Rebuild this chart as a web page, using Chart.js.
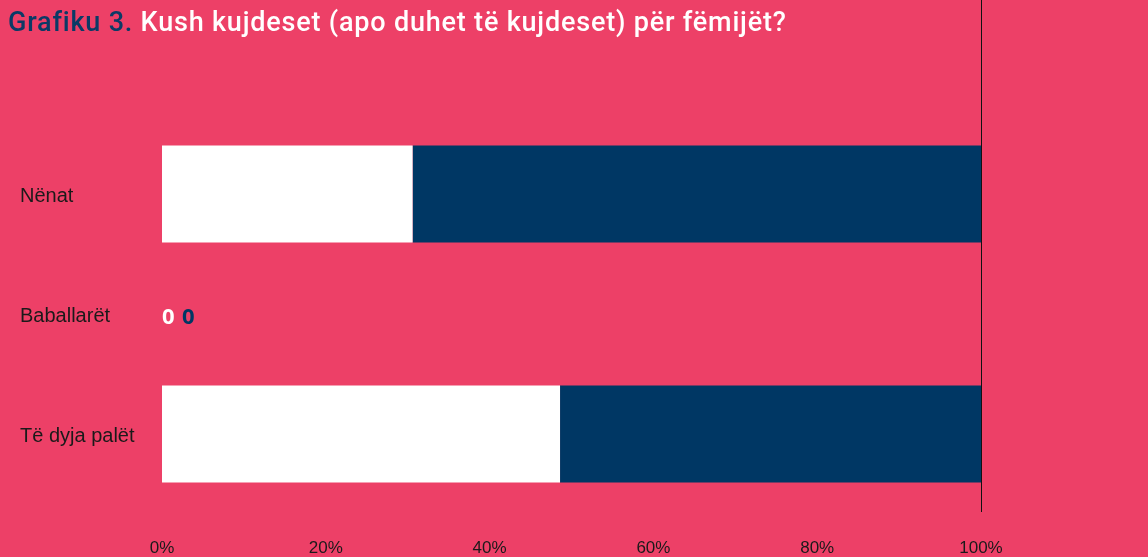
<!DOCTYPE html>
<html>
<head>
<meta charset="utf-8">
<script src="https://cdn.jsdelivr.net/npm/chart.js@4"></script>
<style>
  body { margin: 0; background: #ED4067; }
  #wrap { position: relative; width: 1148px; height: 557px; }
  #title { position: absolute; left: 8px; top: 6px; font-family: Roboto, sans-serif; font-size: 27px; font-weight: 500; letter-spacing: 0.8px; color: #fff; white-space: nowrap; }
  #title b { color: #0B3A66; font-weight: 500; }
</style>
</head>
<body>
<div id="wrap">
  <canvas id="myChart" width="1148" height="557"></canvas>
  <div id="title"><b>Grafiku 3.</b> Kush kujdeset (apo duhet të kujdeset) për fëmijët?</div>
</div>
<script>
const categories = ['Nënat', 'Baballarët', 'Të dyja palët']
const whiteValues = [30.6, 0, 48.6]
const blueValues = [69.4, 0, 51.4]
const xTicks = [0, 20, 40, 60, 80, 100]

const navy = '#003764'

// line at 100% and the "0" labels for empty bars
const extras = {
  id: 'extras',
  afterDraw(chart) {
    const c = chart.ctx
    const x = chart.scales.x
    const y = chart.scales.y
    const px = Math.round(x.getPixelForValue(100)) + 0.5
    c.save()
    c.strokeStyle = '#111'
    c.lineWidth = 1
    c.beginPath()
    c.moveTo(px, 0)
    c.lineTo(px, 512)
    c.stroke()

    c.font = 'bold 22px "Open Sans", sans-serif'
    c.textBaseline = 'middle'
    c.textAlign = 'left'
    chart.data.labels.forEach((lab, i) => {
      let off = 0
      chart.data.datasets.forEach((ds) => {
        if (ds.data[i] === 0) {
          c.fillStyle = ds.backgroundColor
          c.fillText('0', x.getPixelForValue(0) + off, y.getPixelForValue(i) + 4)
          off += 20
        }
      })
    })
    c.restore()
  }
}

const ctx = document.getElementById('myChart').getContext('2d')
const myChart = new Chart(ctx, {
  type: 'bar',
  data: {
    labels: categories,
    datasets: [{
      label: 'a',
      data: whiteValues,
      backgroundColor: '#ffffff',
      borderWidth: 0
    },
    {
      label: 'b',
      data: blueValues,
      backgroundColor: navy,
      borderWidth: 0
    }]
  },
  options: {
    responsive: false,
    animation: false,
    indexAxis: 'y',
    layout: { padding: { left: 20, right: 167, top: 134, bottom: 0 } },
    categoryPercentage: 0.81,
    barPercentage: 1,
    plugins: { legend: { display: false }, tooltip: { enabled: false } },
    scales: {
      x: {
        stacked: true,
        min: 0,
        max: 100,
        border: { display: false },
        grid: { display: false, drawTicks: false },
        afterBuildTicks(s) { s.ticks = xTicks.map(v => ({ value: v })) },
        afterFit(s) { s.height = 557 - 134 - 360 },
        ticks: {
          padding: 44,
          color: '#1a1a1a',
          font: { family: 'Liberation Sans', size: 17 },
          callback: v => v + '%'
        }
      },
      y: {
        stacked: true,
        border: { display: false },
        grid: { display: false, drawTicks: false },
        afterFit(s) { s.width = 142 },
        ticks: {
          crossAlign: 'far',
          labelOffset: 2,
          color: '#1a1a1a',
          font: { family: 'Liberation Sans', size: 20 }
        }
      }
    }
  },
  plugins: [extras]
})
</script>
</body>
</html>
